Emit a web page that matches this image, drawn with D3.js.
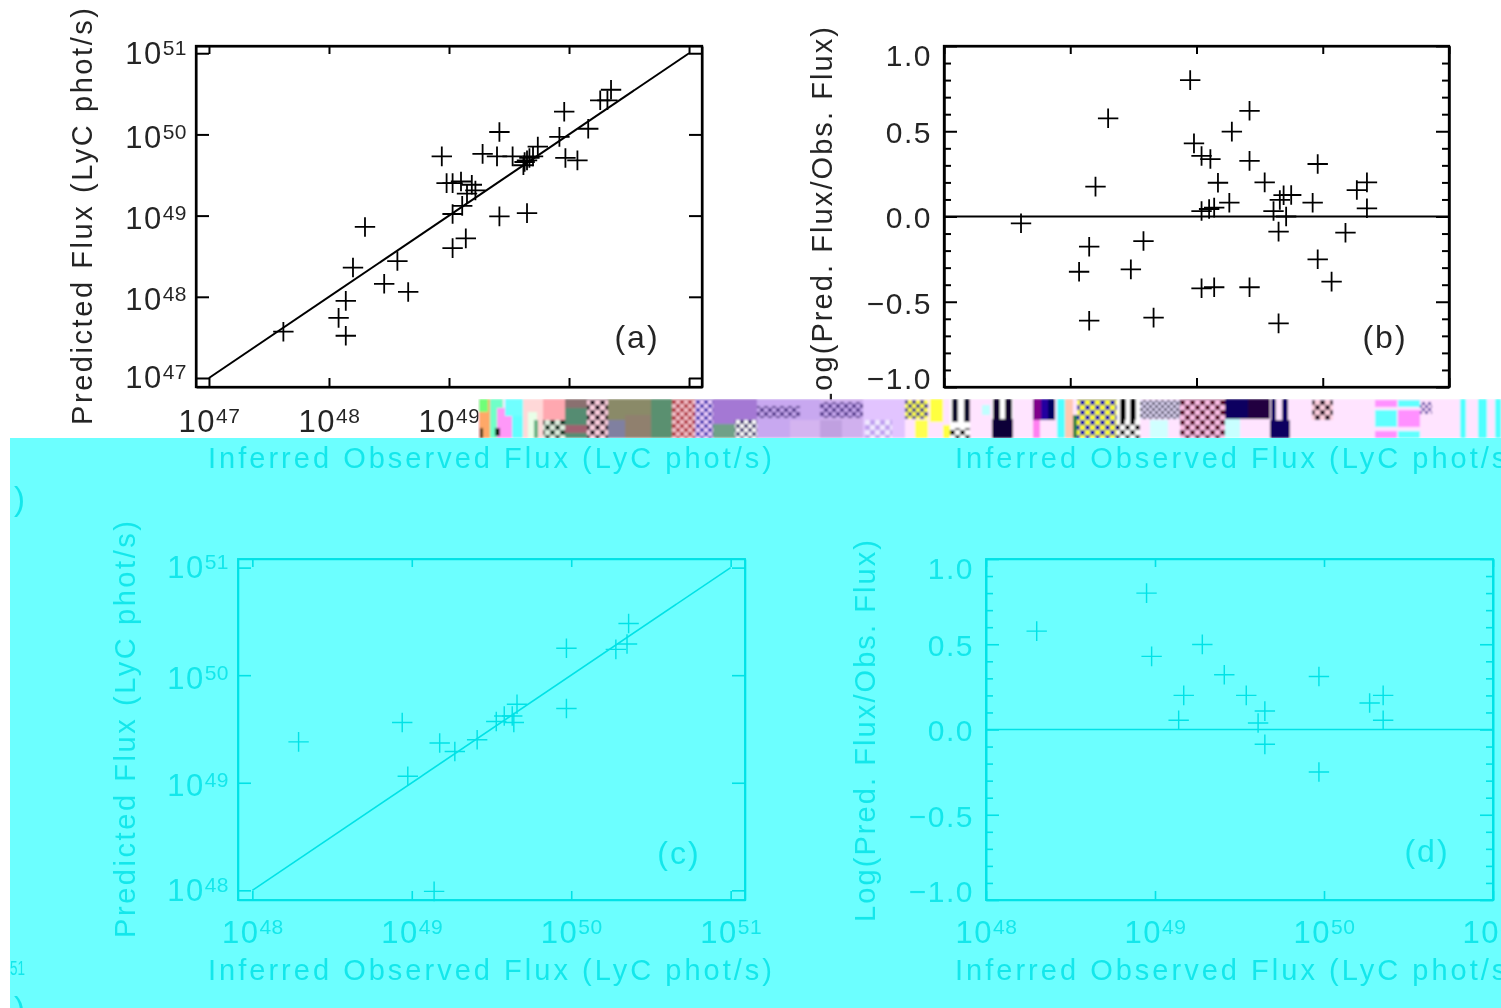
<!DOCTYPE html>
<html><head><meta charset="utf-8">
<script src="https://cdn.jsdelivr.net/npm/d3@7"></script>
<style>html,body{margin:0;padding:0;background:#fff;overflow:hidden}svg{display:block}text{font-family:"Liberation Sans",sans-serif}</style>
</head><body><svg id="c" width="1501" height="1008"></svg>
<script>
// log10 of inferred observed flux / predicted flux, panel (a)
const aObs=[47.62,48.08,48.14,48.14,48.20,48.46,48.66,48.57,48.30,49.03,49.14,49.03,49.11,49.42,49.65,48.94,48.98,49.03,49.10,49.19,49.15,49.22,49.28,49.40,49.42,49.53,49.62,49.65,49.67,49.70,49.74,49.63,49.92,49.96,49.97,50.07,50.16,50.26,50.35,50.32];
const aPred=[47.57,47.74,47.52,47.95,48.36,48.16,48.06,48.44,48.86,48.60,48.72,49.02,49.12,48.99,49.03,49.73,49.40,49.40,49.42,49.38,49.27,49.31,49.76,49.73,50.03,49.73,49.62,49.68,49.71,49.73,49.85,49.66,49.97,50.28,49.71,49.68,50.07,50.42,50.55,50.42];
// panel (b)
const bObs=[47.61,48.15,48.07,48.48,48.58,48.15,48.66,48.20,48.30,48.95,48.98,49.04,49.11,49.42,49.28,49.42,49.17,49.54,49.26,49.14,49.04,49.10,49.04,49.14,49.42,49.65,49.65,50.18,49.96,50.07,49.96,49.92,50.35,50.27,50.35,49.61,49.66,49.75,49.71,49.69];
const bRatio=[-0.04,-0.177,-0.324,-0.31,-0.144,-0.611,-0.593,0.175,0.576,0.80,0.429,0.355,0.337,0.62,0.498,0.326,0.198,0.20,0.081,0.052,0.032,0.044,-0.421,-0.415,-0.415,-0.627,-0.089,-0.095,-0.251,-0.382,0.308,0.081,0.20,0.155,0.048,0.032,0.097,0.126,0.0,0.125];
// panel (c)
const cObs=[48.29,48.94,48.975,49.175,49.27,49.41,49.53,49.58,49.63,49.66,49.64,49.97,49.97,50.28,50.35,50.36,49.14];
const cPred=[49.38,49.56,49.06,49.37,49.29,49.40,49.57,49.62,49.62,49.73,49.56,50.25,49.69,50.24,50.29,50.48,47.99];
// panel (d)
const dObs=[48.30,48.95,48.98,49.28,49.17,49.14,49.41,49.54,49.65,49.61,49.65,49.97,49.97,50.27,50.35,50.35];
const dRatio=[0.577,0.80,0.429,0.499,0.20,0.054,0.321,0.20,0.108,0.038,-0.087,0.311,-0.249,0.155,0.20,0.054];
// tick labels and text
const fluxTicksA=[47,48,49,50,51];
const fluxTicksC=[48,49,50,51];
const ratioMajor=[-1,-0.5,0,0.5,1];
const ratioMinor=[-0.9,-0.8,-0.7,-0.6,-0.4,-0.3,-0.2,-0.1,0.1,0.2,0.3,0.4,0.6,0.7,0.8,0.9];
const xTitle="Inferred Observed Flux (LyC phot/s)";
const yTitleFlux="Predicted Flux (LyC phot/s)";
const yTitleRatio="Log(Pred. Flux/Obs. Flux)";

const svg=d3.select('#c');
const INK2='#00e2e6', BG2='#6cffff';
const defs=svg.append('defs');
const f=defs.append('filter').attr('id','soft').attr('filterUnits','userSpaceOnUse').attr('x',0).attr('y',0).attr('width',1501).attr('height',1008);
f.append('feGaussianBlur').attr('stdDeviation',0.6);
const f2=defs.append('filter').attr('id','soft2').attr('x',0).attr('y',0).attr('width','100%').attr('height','100%');
f2.append('feGaussianBlur').attr('stdDeviation',1);
defs.append('clipPath').attr('id','page').append('rect').attr('x',10).attr('y',438).attr('width',1491).attr('height',570);
function chk(id,a,b,s){const p=defs.append('pattern').attr('id',id).attr('width',s*2).attr('height',s*2).attr('patternUnits','userSpaceOnUse');
 p.append('rect').attr('width',s*2).attr('height',s*2).attr('fill',a);
 p.append('rect').attr('width',s).attr('height',s).attr('fill',b);
 p.append('rect').attr('x',s).attr('y',s).attr('width',s).attr('height',s).attr('fill',b);}
chk('kp','#ffd0e0','#20101a',5);chk('kg','#e0f0e0','#103020',5);chk('rk','#f4c0c8','#b02838',4);chk('bp','#f0d0ff','#3020b0',4);
chk('nw','#fff','#28106a',4);chk('pl','#c8a8f0','#50308a',4);chk('lv','#f0e8ff','#c0a0f0',5);chk('yn','#ffff40','#20208a',4);
chk('by','#ffff20','#1010b0',5);chk('kw','#fff','#000',5);chk('kl','#e8e0ff','#201840',3);chk('mp','#ffc0e8','#50001a',5);chk('dv','#ffe0ff','#4020a0',3);

function drawPanel(cfg,parent){
 const {box,xd,yd,ink,sw,xt,log,obs,val,tag,tagPos,line,ytitle,ytx,yty,ytlen,xtBase}=cfg;
 const textAlpha=ink==='#000'?0.86:0.82;
 const g=parent.append('g').attr('filter','url(#soft)');
 const x=d3.scaleLog().domain(xd.map(v=>Math.pow(10,v))).range([box[0],box[2]]);
 const y=log?d3.scaleLog().domain(yd.map(v=>Math.pow(10,v))).range([box[3],box[1]])
            :d3.scaleLinear().domain(yd).range([box[3],box[1]]);
 const xv=xt.map(v=>Math.pow(10,v));
 const yv=log?xt.map(v=>Math.pow(10,v)):ratioMajor;
 const style=s=>{s.selectAll('path,line').attr('stroke',ink).attr('stroke-width',sw).attr('fill','none');s.selectAll('text').remove();};
 const inner=(gen,tx,ty)=>g.append('g').attr('transform',`translate(${tx},${ty})`).call(gen).call(style);
 const w=box[2]-box[0],h=box[3]-box[1];
 inner(d3.axisBottom(x).tickValues(xv).tickSize(-9).tickSizeOuter(0),0,box[3]);
 inner(d3.axisTop(x).tickValues(xv).tickSize(-8).tickSizeOuter(0),0,box[1]);
 inner(d3.axisLeft(y).tickValues(yv).tickSize(-13).tickSizeOuter(0),box[0],0);
 inner(d3.axisRight(y).tickValues(yv).tickSize(-13).tickSizeOuter(0),box[2],0);
 if(!log){
  inner(d3.axisLeft(y).tickValues(ratioMinor).tickSize(-7).tickSizeOuter(0),box[0],0);
  inner(d3.axisRight(y).tickValues(ratioMinor).tickSize(-7).tickSizeOuter(0),box[2],0);
 }
 // tick labels
 const sup=(sel)=>sel.each(function(d){d3.select(this).append('tspan').attr('dy',-9).attr('font-size',21).attr('letter-spacing',0.5).text(Math.round(Math.log10(d)));});
 const lx=g.append('g').attr('transform',`translate(0,${xtBase})`)
   .call(d3.axisBottom(x).tickValues(xv).tickSize(0).tickPadding(0).tickFormat(()=>'10'));
 lx.select('.domain').remove();
 lx.selectAll('text').attr('y',0).attr('dy',0).attr('font-size',31).attr('letter-spacing',1.5).attr('fill',ink).attr('fill-opacity',textAlpha).attr('font-family','"Liberation Sans"').call(sup);
 const ly=g.append('g').attr('transform',`translate(${box[0]},0)`)
   .call(d3.axisLeft(y).tickValues(yv).tickSize(0).tickPadding(log?9:12)
   .tickFormat(d=>log?'10':d3.format('.1f')(d).replace('-','\u2212')));
 ly.select('.domain').remove();
 ly.selectAll('text').attr('font-size',log?31:30).attr('letter-spacing',1.5).attr('fill',ink).attr('fill-opacity',textAlpha).attr('font-family','"Liberation Sans"')
   .attr('dy',d=>log?((d===yv[0]||d===yv[yv.length-1])?10:13):(d===1?19:d===-1?1:(d===-0.5?12:11)));
 if(log) ly.selectAll('text').call(sup);
 // reference line
 const L=d3.line().x(p=>x(p[0])).y(p=>y(p[1]));
 g.append('path').attr('d',L(line)).attr('fill','none').attr('stroke',ink).attr('stroke-width',sw);
 // crosses
 const pts=obs.map((v,i)=>[Math.pow(10,v),log?Math.pow(10,val[i]):val[i]]);
 g.append('g').selectAll('path').data(pts).join('path')
  .attr('d',p=>{const a=x(p[0]),b=y(p[1]);return `M${a-10.2},${b}H${a+10.2}M${a},${b-9.8}V${b+9.8}`;})
  .attr('fill','none').attr('stroke',ink).attr('stroke-width',sw*0.9);
 // box
 g.append('rect').attr('x',box[0]).attr('y',box[1]).attr('width',w).attr('height',h).attr('fill','none').attr('stroke',ink).attr('stroke-width',sw+0.3);
 // panel tag
 g.append('text').attr('x',tagPos[0]).attr('y',tagPos[1]).attr('text-anchor','middle').attr('font-size',32).attr('letter-spacing',2).attr('fill',ink).attr('fill-opacity',textAlpha).text(tag);
 // y title
 g.append('text').attr('transform',`translate(${ytx},${yty}) rotate(-90)`).attr('font-size',29).attr('fill',ink).attr('fill-opacity',textAlpha)
  .attr('textLength',ytlen).attr('lengthAdjust','spacing').text(ytitle);
}

// page background
svg.append('rect').attr('width',1501).attr('height',1008).attr('fill','#fff');

const upperPanels=[
 {box:[196,46,702,387],xd:[46.892,51.108],yd:[46.889,51.089],ink:'#000',sw:2,xt:fluxTicksA,log:true,obs:aObs,val:aPred,tag:'(a)',tagPos:[637,348],line:[[1e47,1e47],[1e51,1e51]],ytitle:yTitleFlux,ytx:92,yty:425,ytlen:417,xtBase:432},
 {box:[944,46,1449,387],xd:[47,51],yd:[-1,1],ink:'#000',sw:2,xt:fluxTicksA,log:false,obs:bObs,val:bRatio,tag:'(b)',tagPos:[1385,348],line:[[1e47,0],[1e51,0]],ytitle:yTitleRatio,ytx:832,yty:409,ytlen:382,xtBase:432}
];
upperPanels.forEach(c=>drawPanel(c,svg));

// corrupted colour band that covers the upper page from x=478 on
const bandBase=[[478,1501,399,438,'#ffe4ff']];
const bandBlocks=[
[479,490,399,438,'#ffa868'],[479,488,399,412,'#70ff78'],[490,503,399,438,'#70ffc8'],[497,512,408,438,'#ff98f8'],[505,523,399,416,'#70ffff'],[512,523,416,438,'#60ffff'],
[480,483,428,438,'#102010'],[495,500,428,436,'#102010'],
[523,543,399,438,'#ffd8d8'],[528,537,412,438,'#e8ffe8'],[534,538,420,438,'#60b080'],[543,565,399,420,'#ffa8b0'],[543,565,420,438,'url(#kg)'],
[565,587,399,438,'#548c72'],[565,587,399,408,'#8a7070'],[565,587,425,433,'#a06070'],[587,608,399,438,'url(#kp)'],
[608,651,399,438,'#8a8a68'],[608,625,420,438,'#8080a0'],[625,651,415,438,'#90806e'],[651,672,399,438,'#5a9070'],[672,695,399,438,'url(#rk)'],[695,713,399,438,'url(#bp)'],
[713,757,399,438,'#a478d4'],[713,735,424,438,'#70a088'],[735,757,420,438,'url(#nw)'],[757,820,399,438,'#c8a8f0'],[757,800,406,418,'url(#pl)'],[790,820,420,438,'#d4b4f0'],
[820,863,399,438,'#d0b0ee'],[820,863,402,418,'url(#pl)'],[820,842,420,438,'#c0a0e0'],[863,905,399,438,'#e2c4ff'],[865,892,420,438,'url(#lv)'],
[905,928,400,419,'url(#yn)'],[915,928,420,438,'#ffff50'],[930,943,399,422,'#ffff40'],[943,950,425,438,'#ffff40'],
[950,970,399,438,'#fff'],[952,958,399,422,'#08082a'],[964,970,399,422,'#08082a'],[950,970,428,438,'url(#kw)'],[982,990,405,415,'#c0ffff'],
[992,1013,399,419,'#fff'],[993,1000,399,419,'#08002a'],[1005,1012,399,419,'#08002a'],[992,1013,419,438,'#0c0038'],
[1033,1041,399,420,'#80008a'],[1041,1048,399,420,'#2000a0'],[1048,1055,399,420,'#000060'],[1033,1040,420,438,'#ff80f0'],
[1057,1065,399,438,'#50ffff'],[1065,1073,399,438,'#ffc8b0'],[1073,1077,415,438,'#208040'],[1077,1117,399,420,'url(#by)'],[1077,1117,420,438,'url(#by)'],
[1117,1140,399,420,'#fff'],[1120,1126,399,420,'#000'],[1130,1136,399,420,'#000'],[1117,1140,420,438,'url(#kw)'],[1140,1180,400,419,'url(#kl)'],[1150,1168,420,438,'#d0ffff'],
[1180,1225,399,438,'url(#mp)'],[1225,1270,399,419,'#0a0060'],[1248,1270,399,419,'#200040'],[1225,1240,419,438,'#c8ffff'],
[1271,1276,399,420,'#100060'],[1282,1288,399,420,'#100060'],[1270,1290,420,438,'#100060'],[1312,1333,400,420,'url(#kp)'],
[1375,1397,400,407,'#ff90ff'],[1375,1397,410,427,'#60ffff'],[1375,1397,431,438,'#ff90ff'],[1398,1420,400,407,'#60ffff'],[1398,1420,410,427,'#ff90ff'],[1398,1420,431,438,'#60ffff'],
[1420,1432,402,414,'url(#dv)'],[1460,1466,399,438,'#50ffff'],[1478,1487,399,438,'#50ffff'],[1495,1501,399,438,'#50ffff']
];
svg.append('g').attr('filter','url(#soft2)').selectAll('rect').data(bandBase.concat(bandBlocks)).join('rect')
 .attr('x',b=>b[0]).attr('y',b=>b[2]).attr('width',b=>b[1]-b[0]).attr('height',b=>b[3]-b[2]).attr('fill',b=>b[4]);

// cyan lower area
svg.append('rect').attr('x',10).attr('y',438).attr('width',1491).attr('height',570).attr('fill',BG2);
const low=svg.append('g').attr('clip-path','url(#page)');
const titles=[[208,468],[955,468],[208,980],[955,980]];
const lowText=low.append('g').attr('filter','url(#soft)').attr('fill',INK2).attr('fill-opacity',0.82);
lowText.selectAll('text.title').data(titles).join('text').attr('class','title').attr('x',t=>t[0]).attr('y',t=>t[1])
 .attr('font-size',29).attr('textLength',564).attr('lengthAdjust','spacing').text(xTitle);
lowText.append('text').attr('x',14).attr('y',510).attr('font-size',33).text(')');
lowText.append('text').attr('x',10).attr('y',975).attr('font-size',20).attr('textLength',15).attr('lengthAdjust','spacingAndGlyphs').text('51');
lowText.append('text').attr('x',14).attr('y',1020).attr('font-size',33).text(')');

const lowerPanels=[
 {box:[238,559,745,900],xd:[47.91,51.09],yd:[47.91,51.08],ink:INK2,sw:1.6,xt:fluxTicksC,log:true,obs:cObs,val:cPred,tag:'(c)',tagPos:[679,864],line:[[1e48,1e48],[1e51,1e51]],ytitle:yTitleFlux,ytx:135,yty:938,ytlen:417,xtBase:943},
 {box:[986,559,1493,900],xd:[48,51],yd:[-1,1],ink:INK2,sw:1.6,xt:fluxTicksC,log:false,obs:dObs,val:dRatio,tag:'(d)',tagPos:[1427,862],line:[[1e48,0],[1e51,0]],ytitle:yTitleRatio,ytx:875,yty:922,ytlen:382,xtBase:943}
];
lowerPanels.forEach(c=>drawPanel(c,low));
</script></body></html>
